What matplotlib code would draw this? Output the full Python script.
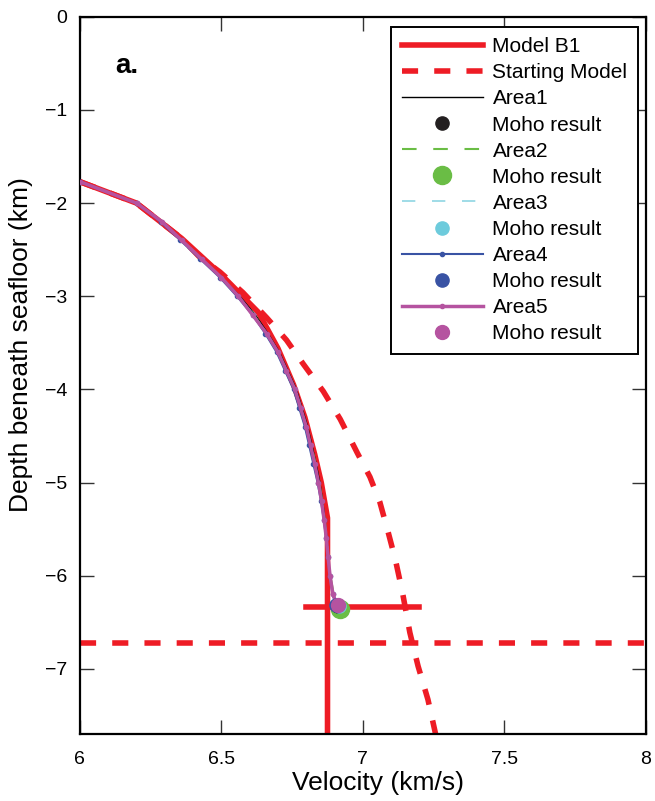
import numpy as np
import matplotlib
matplotlib.use('Agg')
import matplotlib.pyplot as plt

plt.rcParams['font.family'] = ['Liberation Sans', 'DejaVu Sans']

# Model B1 (solid red)
b1_v = [6.00, 6.20, 6.36, 6.50, 6.63, 6.70, 6.755, 6.795, 6.83, 6.853, 6.875, 6.875]
b1_z = [-1.77, -2.00, -2.38, -2.77, -3.17, -3.56, -3.95, -4.30, -4.70, -5.00, -5.38, -7.70]
b1_moho_v = [6.80, 7.20]
b1_moho_z = [-6.34, -6.34]

# Starting model (dashed red)
start_v = [6.00, 6.20, 6.36, 6.42, 6.495, 6.576, 6.66, 6.73, 6.79, 6.86, 6.92, 6.98, 7.025,
           7.06, 7.09, 7.115, 7.14, 7.166, 7.195, 7.23, 7.257]
start_z = [-1.77, -2.00, -2.38, -2.57, -2.74, -2.96, -3.23, -3.47, -3.73, -4.02, -4.32, -4.68, -4.94,
           -5.21, -5.54, -5.83, -6.18, -6.61, -6.97, -7.33, -7.70]
start_moho_v = [6.0, 8.0]
start_moho_z = [-6.72, -6.72]

# inversion results per area (depth samples every ~0.2 km)
area_z = [-1.77, -2.00, -2.20, -2.40, -2.60, -2.80, -3.00, -3.20, -3.40, -3.60, -3.80,
          -4.00, -4.20, -4.40, -4.60, -4.80, -5.00, -5.20, -5.40, -5.60, -5.80, -6.00,
          -6.20, -6.32]
area1_v = [6.00, 6.20, 6.29, 6.36, 6.43, 6.50, 6.565, 6.62, 6.665, 6.705, 6.735,
           6.765, 6.785, 6.805, 6.82, 6.835, 6.848, 6.858, 6.866, 6.873, 6.878, 6.884,
           6.894, 6.912]
area2_v = [6.00, 6.20, 6.29, 6.36, 6.43, 6.50, 6.56, 6.615, 6.66, 6.70, 6.73,
           6.76, 6.782, 6.80, 6.818, 6.833, 6.846, 6.856, 6.865, 6.872, 6.878, 6.885,
           6.897, 6.918]
area3_v = [6.00, 6.20, 6.29, 6.36, 6.43, 6.50, 6.56, 6.615, 6.66, 6.70, 6.73,
           6.76, 6.78, 6.80, 6.816, 6.83, 6.844, 6.855, 6.864, 6.871, 6.877, 6.884,
           6.895, 6.914]
area4_v = [6.00, 6.20, 6.285, 6.355, 6.425, 6.495, 6.555, 6.61, 6.655, 6.695, 6.725,
           6.755, 6.775, 6.795, 6.81, 6.825, 6.84, 6.852, 6.862, 6.87, 6.876, 6.883,
           6.893, 6.905]
area5_v = [6.00, 6.20, 6.29, 6.36, 6.43, 6.50, 6.56, 6.61, 6.66, 6.70, 6.73,
           6.76, 6.78, 6.80, 6.815, 6.83, 6.843, 6.854, 6.863, 6.871, 6.877, 6.884,
           6.894, 6.91]

# Moho results (velocity, depth)
moho_v = [6.912, 6.92, 6.914, 6.905, 6.913]
moho_z = [-6.33, -6.36, -6.33, -6.32, -6.31]

red = '#ee1c25'
fig = plt.figure(figsize=(6.55, 8.01), dpi=100)
ax = fig.add_axes([0.122, 0.0836, 0.864, 0.8954])

ax.plot(b1_v, b1_z, color=red, lw=4, label='Model B1', zorder=2)
ax.plot(b1_moho_v, b1_moho_z, color=red, lw=4, zorder=2)
ax.plot(start_v, start_z, color=red, lw=4, ls=(0, (2.9, 2.9)), label='Starting Model', zorder=2)
ax.plot(start_moho_v, start_moho_z, color=red, lw=4, ls=(0, (2.9, 2.9)), zorder=2)

ax.plot(area1_v, area_z, color='black', lw=1, label='Area1', zorder=3)
ax.plot(moho_v[0], moho_z[0], 'o', color='#231f20', ms=9.5, label='Moho result', zorder=5)
ax.plot(area2_v, area_z, color='#6abd45', lw=1.5, ls=(0, (7, 8)), label='Area2', zorder=3)
ax.plot(moho_v[1], moho_z[1], 'o', color='#6abd45', ms=13, label='Moho result', zorder=4)
ax.plot(area3_v, area_z, color='#8fd5e3', lw=1.2, ls=(0, (8, 10)), label='Area3', zorder=3)
ax.plot(moho_v[2], moho_z[2], 'o', color='#6dcbdc', ms=9.5, label='Moho result', zorder=5)
ax.plot(area4_v, area_z, color='#3953a4', lw=1.5, marker='.', ms=6, label='Area4', zorder=3)
ax.plot(moho_v[3], moho_z[3], 'o', color='#3953a4', ms=9.5, label='Moho result', zorder=5)
ax.plot(area5_v, area_z, color='#b553a0', lw=2.5, marker='.', ms=6, label='Area5', zorder=3)
ax.plot(moho_v[4], moho_z[4], 'o', color='#b553a0', ms=10, label='Moho result', zorder=6)

ax.set_xlim(6, 8)
ax.set_ylim(-7.7, 0)
ax.set_xticks([6, 6.5, 7, 7.5, 8])
ax.set_xticklabels(['6', '6.5', '7', '7.5', '8'])
ax.set_yticks([0, -1, -2, -3, -4, -5, -6, -7])
ax.tick_params(direction='in', length=10, width=1, color='#333333', top=True, right=True,
               labelsize=14, pad=9)
ax.tick_params(axis='x', pad=12)
for s in ax.spines.values():
    s.set_linewidth(1.6)
ax.set_xlabel('Velocity (km/s)', fontsize=19)
ax.set_ylabel('Depth beneath seafloor (km)', fontsize=19)
ax.xaxis.set_label_coords(0.5265, -0.052)
ax.yaxis.set_label_coords(-0.083, 0.5425)

ax.text(6.124, -0.60, 'a.', fontsize=20, fontweight='bold')

leg = ax.legend(loc='upper right', fontsize=15, handlelength=3.9, numpoints=1,
                labelspacing=0.34, borderpad=0.5, handletextpad=0.45, borderaxespad=0,
                fancybox=False, framealpha=1, edgecolor='black',
                bbox_to_anchor=(0.986, 0.986))
leg.get_frame().set_linewidth(1.4)

fig.savefig('out.png', dpi=100)
